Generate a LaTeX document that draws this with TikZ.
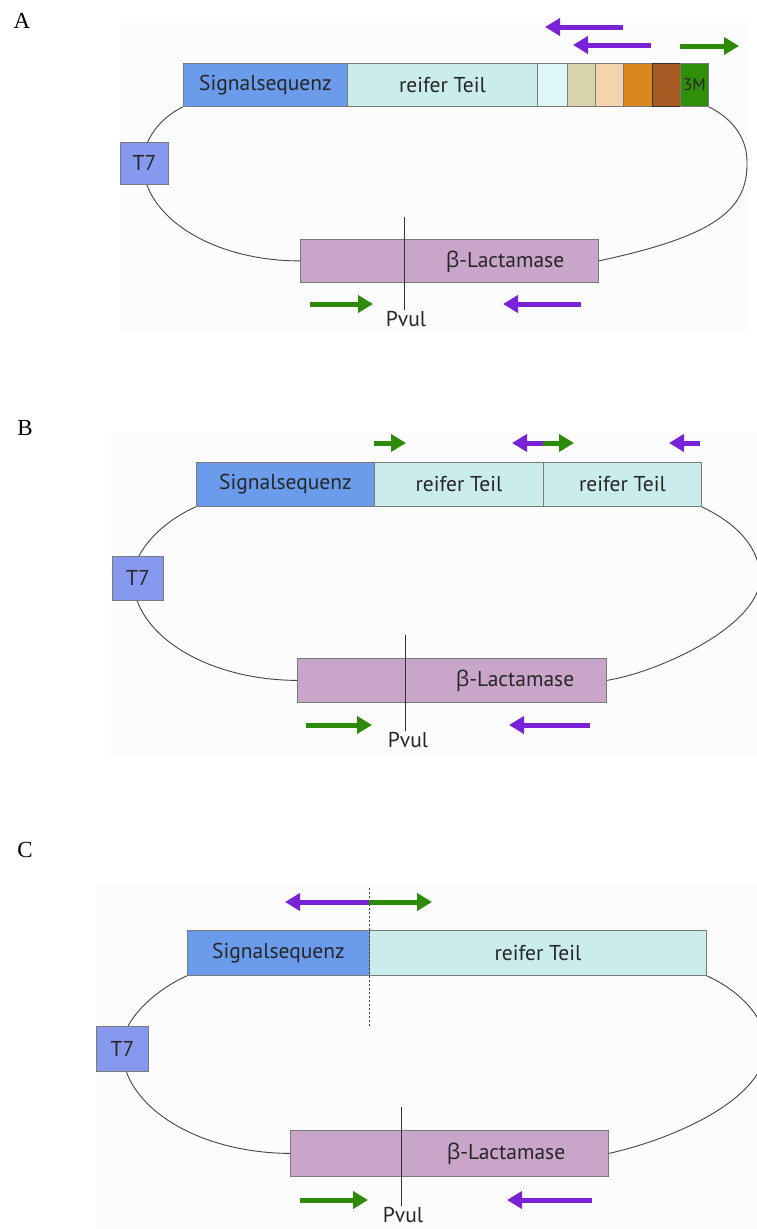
\documentclass[tikz,border=0pt]{standalone}
\usepackage{fontspec}
\setmainfont{PT Sans}
\newfontfamily\grkfont{Open Sans}
\newfontfamily\letterfont{Liberation Serif}
\usetikzlibrary{arrows.meta}
\definecolor{sigblue}{HTML}{6B9CEC}
\definecolor{matcyan}{HTML}{CBECEC}
\definecolor{lightcyan}{HTML}{DFF6F8}
\definecolor{tanc}{HTML}{D8D3A8}
\definecolor{peach}{HTML}{F6D4AB}
\definecolor{orangec}{HTML}{D9891C}
\definecolor{brownc}{HTML}{A55A22}
\definecolor{greenbox}{HTML}{2F8F08}
\definecolor{tsevenblue}{HTML}{8799EE}
\definecolor{lacpink}{HTML}{C9A6C9}
\definecolor{boxgray}{HTML}{7A7A7A}
\definecolor{curvegray}{HTML}{444444}
\definecolor{pgreen}{HTML}{2E8B0A}
\definecolor{ppurple}{HTML}{7A22D8}
\definecolor{panelbg}{HTML}{FCFCFC}
\pgfdeclarelayer{bglayer}
\pgfsetlayers{bglayer,main}
\newcommand\lblfont{\fontsize{21.5}{24}\selectfont}
\begin{document}
\begin{tikzpicture}[x=1pt,y=-1pt,
  seg/.style={draw=boxgray, line width=0.8pt, anchor=north west, inner sep=0pt, font=\lblfont, text=black!85},
  bb/.style={draw=curvegray, line width=0.9pt},
  cut/.style={draw=black!80, line width=0.9pt},
  prim/.style={line width=5pt, -{Triangle[length=15pt,width=17pt]}},
  pg/.style={prim, draw=pgreen},
  pp/.style={prim, draw=ppurple},
  txt/.style={font=\lblfont, text=black!85, inner sep=0pt},
  letter/.style={font=\letterfont\fontsize{23}{26}\selectfont, inner sep=0pt}
]
\begin{pgfonlayer}{bglayer}
\fill[white] (0,0) rectangle (757,1229);
\fill[panelbg] (120,18) rectangle (748,333);
\fill[panelbg] (110,433) rectangle (757,757);
\fill[panelbg] (96,883) rectangle (757,1229);
\end{pgfonlayer}
\useasboundingbox (0,0) rectangle (757,1229);

% ---------------- Panel A ----------------
\node[letter] (labA) at (22,21) {A};
\node[seg, fill=sigblue, minimum width=164pt, minimum height=43pt] (sigA) at (183,63) {Signalsequenz};
\node[seg, fill=matcyan, minimum width=190pt, minimum height=43pt] (matA) at (347,63) {reifer Teil};
\node[seg, fill=lightcyan, minimum width=30pt, minimum height=43pt] (c1A) at (537,63) {};
\node[seg, fill=tanc, minimum width=28pt, minimum height=43pt] (c2A) at (567,63) {};
\node[seg, fill=peach, minimum width=28pt, minimum height=43pt] (c3A) at (595,63) {};
\node[seg, fill=orangec, minimum width=29pt, minimum height=43pt] (c4A) at (623,63) {};
\node[seg, fill=brownc, draw=black!80, minimum width=28pt, minimum height=43pt] (c5A) at (652,63) {};
\node[seg, fill=greenbox, minimum width=28pt, minimum height=43pt, font=\fontsize{17}{19}\selectfont] (c6A) at (680,63) {3M};
\node[seg, fill=tsevenblue, minimum width=48pt, minimum height=42pt] (t7A) at (120,142) {T7};
\node[seg, fill=lacpink, minimum width=298pt, minimum height=43pt] (laA) at (300,239) {};
\node[txt] (latA) at (505,262) {{\grkfont β}-Lactamase};
\coordinate (pvtA) at (404,217);
\coordinate (pvbA) at (404,310);
\node[txt, anchor=north] (pvA) at (406,311) {Pvul};
\begin{pgfonlayer}{bglayer}
\draw[bb] (sigA.south west) .. controls (160,118) and (143,140) .. (143,163)
          .. controls (143,217) and (213,261) .. (laA.west);
\draw[bb] (c6A.south east) .. controls (735,120) and (747,140) .. (747,162)
          .. controls (748,210) and (715,236) .. (laA.east);
\end{pgfonlayer}
\draw[cut] (pvtA) -- (pvbA);
\draw[pp] (623,27) -- (545,27);
\draw[pp] (651,45) -- (573,45);
\draw[pg] (680,46) -- (739,46);
\draw[pg] (310,304) -- (373,304);
\draw[pp] (581,304) -- (503,304);

% ---------------- Panel B ----------------
\node[letter] (labB) at (25,428) {B};
\node[seg, fill=sigblue, minimum width=178pt, minimum height=44pt] (sigB) at (196,462) {Signalsequenz};
\node[seg, fill=matcyan, minimum width=169pt, minimum height=44pt] (mat1B) at (374,462) {reifer Teil};
\node[seg, fill=matcyan, minimum width=158pt, minimum height=44pt] (mat2B) at (543,462) {reifer Teil};
\node[seg, fill=tsevenblue, minimum width=51pt, minimum height=44pt] (t7B) at (112,556) {T7};
\node[seg, fill=lacpink, minimum width=309pt, minimum height=44pt] (laB) at (297,658) {};
\node[txt] (latB) at (515,681) {{\grkfont β}-Lactamase};
\coordinate (pvtB) at (405,635);
\coordinate (pvbB) at (405,731);
\node[txt, anchor=north] (pvB) at (408,732) {Pvul};
\begin{pgfonlayer}{bglayer}
\draw[bb] (sigB.south west) .. controls (165,520) and (133,550) .. (133,578)
          .. controls (133,634) and (206,680) .. (laB.west);
\draw[bb] (mat2B.south east) .. controls (740,525) and (760,550) .. (760,578)
          .. controls (760,625) and (660,672) .. (laB.east);
\end{pgfonlayer}
\draw[cut] (pvtB) -- (pvbB);
\draw[pg] (374,443) -- (406,443);
\draw[pp] (543,443) -- (512,443);
\draw[pg] (543,443) -- (574,443);
\draw[pp] (700,443) -- (669,443);
\draw[pg] (306,725) -- (372,725);
\draw[pp] (590,725) -- (509,725);

% ---------------- Panel C ----------------
\node[letter] (labC) at (25,850) {C};
\node[seg, fill=sigblue, minimum width=182pt, minimum height=45pt] (sigC) at (187,930) {Signalsequenz};
\node[seg, fill=matcyan, minimum width=337pt, minimum height=45pt] (matC) at (369,930) {reifer Teil};
\node[seg, fill=tsevenblue, minimum width=52pt, minimum height=45pt] (t7C) at (96,1026) {T7};
\node[seg, fill=lacpink, minimum width=318pt, minimum height=46pt] (laC) at (290,1130) {};
\node[txt] (latC) at (506,1154) {{\grkfont β}-Lactamase};
\coordinate (dtC) at (369,888);
\coordinate (dbC) at (369,1026);
\coordinate (pvtC) at (401,1107);
\coordinate (pvbC) at (401,1206);
\node[txt, anchor=north] (pvC) at (403,1207) {Pvul};
\begin{pgfonlayer}{bglayer}
\draw[bb] (sigC.south west) .. controls (155,990) and (122,1020) .. (122,1048)
          .. controls (122,1106) and (197,1153) .. (laC.west);
\draw[bb] (matC.south east) .. controls (728,985) and (765,1010) .. (766,1046)
          .. controls (766,1100) and (670,1140) .. (laC.east);
\end{pgfonlayer}
\draw[black!75, line width=0.7pt, dash pattern=on 2pt off 2pt] (dtC) -- (dbC);
\draw[cut] (pvtC) -- (pvbC);
\draw[pp] (369,902) -- (285,902);
\draw[pg] (369,902) -- (432,902);
\draw[pg] (300,1200) -- (368,1200);
\draw[pp] (592,1200) -- (507,1200);
\end{tikzpicture}
\end{document}
